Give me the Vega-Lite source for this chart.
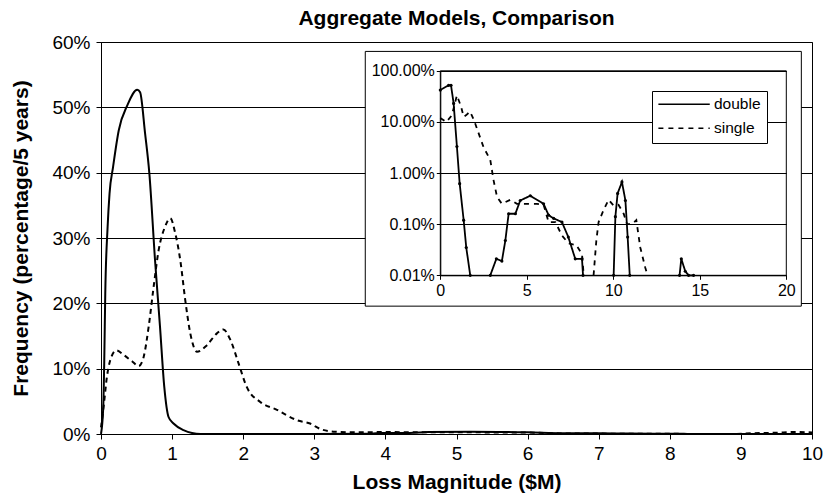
{
  "$schema": "https://vega.github.io/schema/vega-lite/v6.json",
  "width": 711,
  "height": 392,
  "autosize": {"type": "none"},
  "padding": {"left": 101, "top": 42, "right": 14, "bottom": 67},
  "background": "white",
  "title": {"text": "Aggregate Models, Comparison", "fontSize": 21, "font": "Liberation Sans", "fontWeight": "bold", "anchor": "middle", "frame": "group", "offset": 4, "color": "black"},
  "config": {
    "view": {"stroke": "black", "strokeWidth": 1},
    "font": "Liberation Sans",
    "axis": {"domainColor": "black", "tickColor": "black", "labelColor": "black", "titleColor": "black", "labelFont": "Liberation Sans", "titleFont": "Liberation Sans", "gridColor": "black", "gridOpacity": 1, "gridWidth": 1, "domainWidth": 1, "tickWidth": 1, "labelOverlap": false, "labelFlush": false}
  },
  "datasets": {
    "main": [
      {"x": 0, "y": 0, "series": "double"}, {"x": 0.03, "y": 3.7, "series": "double"}, {"x": 0.046, "y": 11.3, "series": "double"}, {"x": 0.06, "y": 21.5, "series": "double"}, {"x": 0.093, "y": 31.7, "series": "double"}, {"x": 0.12, "y": 36.8, "series": "double"}, {"x": 0.17, "y": 40.9, "series": "double"}, {"x": 0.25, "y": 46.5, "series": "double"}, {"x": 0.37, "y": 50.3, "series": "double"}, {"x": 0.51, "y": 52.7, "series": "double"}, {"x": 0.55, "y": 52.3, "series": "double"}, {"x": 0.62, "y": 46.0, "series": "double"}, {"x": 0.68, "y": 39.9, "series": "double"}, {"x": 0.76, "y": 26.6, "series": "double"}, {"x": 0.83, "y": 16.4, "series": "double"}, {"x": 0.89, "y": 7.2, "series": "double"}, {"x": 0.95, "y": 2.6, "series": "double"}, {"x": 1.02, "y": 1.6, "series": "double"}, {"x": 1.16, "y": 0.6, "series": "double"}, {"x": 1.4, "y": 0, "series": "double"}, {"x": 2.9, "y": 0, "series": "double"}, {"x": 3.8, "y": 0.05, "series": "double"}, {"x": 3.95, "y": 0.16, "series": "double"}, {"x": 4.34, "y": 0.16, "series": "double"}, {"x": 4.6, "y": 0.29, "series": "double"}, {"x": 5.2, "y": 0.36, "series": "double"}, {"x": 6.0, "y": 0.25, "series": "double"}, {"x": 6.5, "y": 0.13, "series": "double"}, {"x": 7.0, "y": 0.11, "series": "double"}, {"x": 7.4, "y": 0.06, "series": "double"}, {"x": 8.2, "y": 0.02, "series": "double"}, {"x": 8.3, "y": 0, "series": "double"}, {"x": 10, "y": 0, "series": "double"},
      {"x": 0, "y": 1, "series": "single"}, {"x": 0.037, "y": 4.2, "series": "single"}, {"x": 0.084, "y": 8.8, "series": "single"}, {"x": 0.13, "y": 11.3, "series": "single"}, {"x": 0.215, "y": 12.8, "series": "single"}, {"x": 0.32, "y": 12.1, "series": "single"}, {"x": 0.44, "y": 11.1, "series": "single"}, {"x": 0.53, "y": 10.4, "series": "single"}, {"x": 0.6, "y": 11.8, "series": "single"}, {"x": 0.67, "y": 16.4, "series": "single"}, {"x": 0.74, "y": 22.5, "series": "single"}, {"x": 0.81, "y": 28.1, "series": "single"}, {"x": 0.9, "y": 31.7, "series": "single"}, {"x": 0.975, "y": 33.0, "series": "single"}, {"x": 1.045, "y": 30.7, "series": "single"}, {"x": 1.115, "y": 26.6, "series": "single"}, {"x": 1.185, "y": 20.5, "series": "single"}, {"x": 1.256, "y": 15.4, "series": "single"}, {"x": 1.35, "y": 12.6, "series": "single"}, {"x": 1.49, "y": 13.6, "series": "single"}, {"x": 1.63, "y": 15.4, "series": "single"}, {"x": 1.72, "y": 16.0, "series": "single"}, {"x": 1.82, "y": 14.4, "series": "single"}, {"x": 1.935, "y": 10.8, "series": "single"}, {"x": 2.05, "y": 7.2, "series": "single"}, {"x": 2.24, "y": 4.9, "series": "single"}, {"x": 2.475, "y": 3.7, "series": "single"}, {"x": 2.76, "y": 2.1, "series": "single"}, {"x": 2.94, "y": 1.6, "series": "single"}, {"x": 3.1, "y": 0.7, "series": "single"}, {"x": 3.3, "y": 0.34, "series": "single"}, {"x": 3.6, "y": 0.25, "series": "single"}, {"x": 4.0, "y": 0.3, "series": "single"}, {"x": 4.5, "y": 0.25, "series": "single"}, {"x": 5.0, "y": 0.25, "series": "single"}, {"x": 6.0, "y": 0.24, "series": "single"}, {"x": 6.3, "y": 0.11, "series": "single"}, {"x": 7.0, "y": 0.06, "series": "single"}, {"x": 8.0, "y": 0.035, "series": "single"}, {"x": 8.3, "y": 0, "series": "single"}, {"x": 8.9, "y": 0, "series": "single"}, {"x": 9.15, "y": 0.11, "series": "single"}, {"x": 9.5, "y": 0.2, "series": "single"}, {"x": 9.75, "y": 0.3, "series": "single"}, {"x": 10, "y": 0.23, "series": "single"}
    ],
    "inset": [
      {"x": 0, "y": 42, "series": "double", "seg": "d1"}, {"x": 0.48, "y": 52, "series": "double", "seg": "d1"}, {"x": 0.62, "y": 52, "series": "double", "seg": "d1"}, {"x": 0.77, "y": 23, "series": "double", "seg": "d1"}, {"x": 0.96, "y": 3.3, "series": "double", "seg": "d1"}, {"x": 1.12, "y": 0.62, "series": "double", "seg": "d1"}, {"x": 1.35, "y": 0.12, "series": "double", "seg": "d1"}, {"x": 1.5, "y": 0.035, "series": "double", "seg": "d1"}, {"x": 1.73, "y": 0.01, "series": "double", "seg": "d1"},
      {"x": 2.89, "y": 0.01, "series": "double", "seg": "d2"}, {"x": 3.24, "y": 0.021, "series": "double", "seg": "d2"}, {"x": 3.56, "y": 0.019, "series": "double", "seg": "d2"}, {"x": 3.76, "y": 0.048, "series": "double", "seg": "d2"}, {"x": 3.95, "y": 0.16, "series": "double", "seg": "d2"}, {"x": 4.34, "y": 0.16, "series": "double", "seg": "d2"}, {"x": 4.62, "y": 0.29, "series": "double", "seg": "d2"}, {"x": 5.2, "y": 0.36, "series": "double", "seg": "d2"}, {"x": 5.97, "y": 0.25, "series": "double", "seg": "d2"}, {"x": 6.26, "y": 0.15, "series": "double", "seg": "d2"}, {"x": 6.55, "y": 0.13, "series": "double", "seg": "d2"}, {"x": 7.03, "y": 0.11, "series": "double", "seg": "d2"}, {"x": 7.4, "y": 0.056, "series": "double", "seg": "d2"}, {"x": 7.8, "y": 0.021, "series": "double", "seg": "d2"}, {"x": 8.19, "y": 0.021, "series": "double", "seg": "d2"}, {"x": 8.25, "y": 0.01, "series": "double", "seg": "d2"},
      {"x": 10.02, "y": 0.01, "series": "double", "seg": "d3"}, {"x": 10.12, "y": 0.14, "series": "double", "seg": "d3"}, {"x": 10.25, "y": 0.4, "series": "double", "seg": "d3"}, {"x": 10.5, "y": 0.67, "series": "double", "seg": "d3"}, {"x": 10.7, "y": 0.29, "series": "double", "seg": "d3"}, {"x": 10.83, "y": 0.056, "series": "double", "seg": "d3"}, {"x": 10.95, "y": 0.01, "series": "double", "seg": "d3"},
      {"x": 13.83, "y": 0.01, "series": "double", "seg": "d4"}, {"x": 13.93, "y": 0.021, "series": "double", "seg": "d4"}, {"x": 14.16, "y": 0.012, "series": "double", "seg": "d4"}, {"x": 14.35, "y": 0.01, "series": "double", "seg": "d4"}, {"x": 14.64, "y": 0.01, "series": "double", "seg": "d4"},
      {"x": 0, "y": 12, "series": "single", "seg": "s1"}, {"x": 0.35, "y": 10, "series": "single", "seg": "s1"}, {"x": 0.67, "y": 13.5, "series": "single", "seg": "s1"}, {"x": 0.96, "y": 33, "series": "single", "seg": "s1"}, {"x": 1.2, "y": 20, "series": "single", "seg": "s1"}, {"x": 1.35, "y": 12.6, "series": "single", "seg": "s1"}, {"x": 1.5, "y": 13.6, "series": "single", "seg": "s1"}, {"x": 1.72, "y": 16, "series": "single", "seg": "s1"}, {"x": 1.95, "y": 10.8, "series": "single", "seg": "s1"}, {"x": 2.12, "y": 7.4, "series": "single", "seg": "s1"}, {"x": 2.5, "y": 3.2, "series": "single", "seg": "s1"}, {"x": 2.89, "y": 1.8, "series": "single", "seg": "s1"}, {"x": 3.08, "y": 0.72, "series": "single", "seg": "s1"}, {"x": 3.28, "y": 0.34, "series": "single", "seg": "s1"}, {"x": 3.56, "y": 0.25, "series": "single", "seg": "s1"}, {"x": 4.05, "y": 0.3, "series": "single", "seg": "s1"}, {"x": 4.43, "y": 0.25, "series": "single", "seg": "s1"}, {"x": 5.0, "y": 0.25, "series": "single", "seg": "s1"}, {"x": 5.59, "y": 0.25, "series": "single", "seg": "s1"}, {"x": 5.97, "y": 0.24, "series": "single", "seg": "s1"}, {"x": 6.26, "y": 0.11, "series": "single", "seg": "s1"}, {"x": 6.65, "y": 0.11, "series": "single", "seg": "s1"}, {"x": 7.03, "y": 0.06, "series": "single", "seg": "s1"}, {"x": 7.42, "y": 0.042, "series": "single", "seg": "s1"}, {"x": 7.86, "y": 0.039, "series": "single", "seg": "s1"}, {"x": 8.19, "y": 0.026, "series": "single", "seg": "s1"}, {"x": 8.29, "y": 0.01, "series": "single", "seg": "s1"},
      {"x": 8.86, "y": 0.01, "series": "single", "seg": "s2"}, {"x": 9.02, "y": 0.048, "series": "single", "seg": "s2"}, {"x": 9.15, "y": 0.11, "series": "single", "seg": "s2"}, {"x": 9.44, "y": 0.19, "series": "single", "seg": "s2"}, {"x": 9.73, "y": 0.3, "series": "single", "seg": "s2"}, {"x": 10.02, "y": 0.23, "series": "single", "seg": "s2"}, {"x": 10.3, "y": 0.24, "series": "single", "seg": "s2"}, {"x": 10.6, "y": 0.16, "series": "single", "seg": "s2"}, {"x": 10.79, "y": 0.1, "series": "single", "seg": "s2"}, {"x": 11.08, "y": 0.1, "series": "single", "seg": "s2"}, {"x": 11.33, "y": 0.12, "series": "single", "seg": "s2"}, {"x": 11.56, "y": 0.035, "series": "single", "seg": "s2"}, {"x": 11.85, "y": 0.014, "series": "single", "seg": "s2"}, {"x": 11.98, "y": 0.01, "series": "single", "seg": "s2"}
    ]
  },
  "layer": [
    {
      "data": {"name": "main"},
      "layer": [
        {
          "transform": [{"filter": "datum.series === 'double'"}],
          "mark": {"type": "line", "color": "black", "strokeWidth": 2, "interpolate": "monotone"},
          "encoding": {
            "x": {"field": "x", "type": "quantitative", "title": "Loss Magnitude ($M)",
              "scale": {"domain": [0, 10], "nice": false, "zero": false},
              "axis": {"values": [0, 1, 2, 3, 4, 5, 6, 7, 8, 9, 10], "format": "d", "grid": false, "tickSize": 5, "labelPadding": 5, "titlePadding": 8, "labelFontSize": 19, "titleFontSize": 21, "titleFontWeight": "bold"}},
            "y": {"field": "y", "type": "quantitative", "title": "Frequency (percentage/5 years)",
              "scale": {"domain": [0, 60], "nice": false},
              "axis": {"values": [0, 10, 20, 30, 40, 50, 60], "grid": true, "labelExpr": "datum.value + '%'", "tickSize": 5, "labelPadding": 6, "titlePadding": 20, "labelFontSize": 19, "titleFontSize": 21, "titleFontWeight": "bold"}}
          }
        },
        {
          "transform": [{"filter": "datum.series === 'single'"}],
          "mark": {"type": "line", "color": "black", "strokeWidth": 2, "strokeDash": [5, 4], "interpolate": "monotone"},
          "encoding": {
            "x": {"field": "x", "type": "quantitative", "title": "Loss Magnitude ($M)"},
            "y": {"field": "y", "type": "quantitative", "title": "Frequency (percentage/5 years)"}
          }
        },
        {
          "data": {"values": [{"x1": 3.717, "x2": 9.85, "y1": 19.57, "y2": 58.56}]},
          "mark": {"type": "rect", "fill": "white", "stroke": "black", "strokeWidth": 1},
          "encoding": {
            "x": {"field": "x1", "type": "quantitative", "title": "Loss Magnitude ($M)"},
            "x2": {"field": "x2"},
            "y": {"field": "y1", "type": "quantitative", "title": "Frequency (percentage/5 years)"},
            "y2": {"field": "y2"}
          }
        }
      ]
    },
    {
      "data": {"name": "inset"},
      "layer": [
        {
          "data": {"values": [{"x1": 0, "x2": 20, "y1": 0.01, "y2": 100}]},
          "mark": {"type": "rect", "filled": false, "color": "black", "strokeWidth": 1},
          "encoding": {
            "x": {"field": "x1", "type": "quantitative", "title": null},
            "x2": {"field": "x2"},
            "y": {"field": "y1", "type": "quantitative", "title": null},
            "y2": {"field": "y2"}
          }
        },
        {
          "mark": {"type": "line", "color": "black", "strokeWidth": 1.8},
          "encoding": {
            "x": {"field": "x", "type": "quantitative", "title": null,
              "scale": {"domain": [0, 20], "range": [339.3, 685.3], "nice": false, "zero": false},
              "axis": {"orient": "bottom", "offset": -158.7, "values": [0, 5, 10, 15, 20], "format": "d", "grid": false, "tickSize": 4, "labelPadding": 3, "labelFontSize": 16, "zindex": 1}},
            "y": {"field": "y", "type": "quantitative", "title": null,
              "scale": {"type": "log", "domain": [0.01, 100], "range": [233.3, 28.8], "nice": false},
              "axis": {"orient": "left", "offset": -339.3, "values": [0.01, 0.1, 1, 10, 100], "grid": true, "labelExpr": "format(datum.value, '.2f') + '%'", "tickSize": 4, "labelPadding": 2, "labelFontSize": 16, "zindex": 1}},
            "detail": {"field": "seg", "type": "nominal"},
            "strokeDash": {"field": "series", "type": "nominal",
              "scale": {"domain": ["double", "single"], "range": [[1, 0], [5, 5]]},
              "legend": {"orient": "none", "legendX": 551, "legendY": 49, "title": null, "strokeColor": "black", "fillColor": "white", "padding": 5.5, "labelFontSize": 15.5, "labelFont": "Liberation Sans", "labelColor": "black", "symbolType": "M-1.37,0H8.9", "symbolSize": 100, "symbolStrokeWidth": 1.5, "symbolStrokeColor": "black", "rowPadding": 7, "labelOffset": 41, "zindex": 2}}
          }
        },
        {
          "transform": [{"filter": "datum.series === 'double'"}],
          "mark": {"type": "point", "filled": true, "color": "black", "size": 10, "opacity": 1},
          "encoding": {
            "x": {"field": "x", "type": "quantitative"},
            "y": {"field": "y", "type": "quantitative"}
          }
        }
      ]
    }
  ],
  "resolve": {"scale": {"x": "independent", "y": "independent"}, "axis": {"x": "independent", "y": "independent"}}
}
